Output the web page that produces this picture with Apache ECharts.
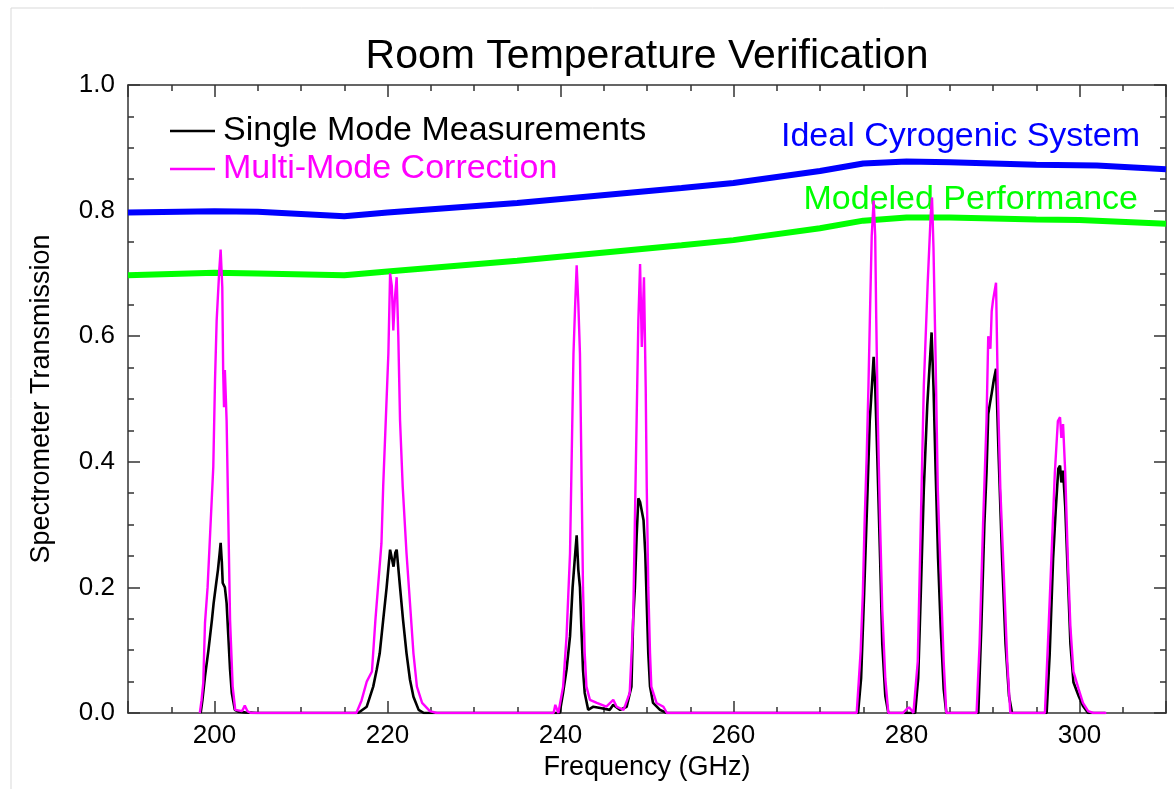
<!DOCTYPE html>
<html>
<head>
    <meta charset="utf-8">
    <script type="text/javascript" src="https://cdn.jsdelivr.net/npm/echarts@6.0.0/dist/echarts.min.js"></script>
    <style type="text/css">
        * {
            margin: 0;
            padding: 0;
        }
        body {
            background: #fff;
        }
        #container {
            width: 1174px;
            height: 789px;
        }
    </style>
</head>
<body>
<div id="container"></div>

<script type="text/javascript">

    // tick labels
    var xTickLabels = [200, 220, 240, 260, 280, 300];
    var yTickLabels = [0, 0.2, 0.4, 0.6, 0.8, 1.0];

    // ideal cryogenic system (GHz, transmission)
    var idealSystem = [
        [190, 0.797], [200, 0.799], [205, 0.798], [215, 0.791], [220, 0.797], [235, 0.812],
        [254, 0.836], [260, 0.844], [270, 0.863], [275, 0.875], [280, 0.878], [285, 0.877],
        [295, 0.873], [302, 0.872], [310, 0.866]
    ];

    // modeled performance
    var modeledPerf = [
        [190, 0.697], [200, 0.701], [205, 0.700], [215, 0.697], [220, 0.703], [235, 0.720],
        [254, 0.745], [260, 0.753], [270, 0.772], [275, 0.784], [280, 0.789], [285, 0.789],
        [295, 0.786], [300, 0.785], [310, 0.779]
    ];

    // single mode measurements
    var singleMode = [
        [198.4, 0], [198.6, 0.02], [198.9, 0.058], [199.3, 0.10], [199.7, 0.148], [199.9, 0.175],
        [200.2, 0.207], [200.4, 0.228], [200.6, 0.255], [200.71, 0.271], [200.85, 0.24], [200.95, 0.207],
        [201.2, 0.2], [201.4, 0.175], [201.6, 0.122], [201.8, 0.069], [202.0, 0.032], [202.35, 0.005],
        [202.8, 0.002], [203.5, 0.001], [205, 0],
        [216.6, 0], [217.6, 0.01], [218.35, 0.042], [218.75, 0.069], [219.1, 0.095], [219.5, 0.148],
        [219.9, 0.2], [220.3, 0.26], [220.5, 0.262], [220.7, 0.233], [220.9, 0.255], [221.06, 0.26],
        [221.45, 0.2], [221.8, 0.148], [222.2, 0.095], [222.6, 0.053], [223.0, 0.026], [223.6, 0.005],
        [224.2, 0],
        [239.9, 0], [240.3, 0.032], [240.7, 0.069], [241.1, 0.122], [241.4, 0.2], [241.7, 0.254],
        [241.87, 0.283], [242.06, 0.228], [242.25, 0.2], [242.45, 0.122], [242.6, 0.069], [242.8, 0.032],
        [243.2, 0.005], [243.8, 0.01], [244.6, 0.008], [245.7, 0.005], [246.1, 0.013], [246.9, 0.005],
        [247.65, 0.01], [248.2, 0.042], [248.4, 0.148], [248.6, 0.2], [248.8, 0.281], [249.0, 0.342],
        [249.2, 0.336], [249.4, 0.334], [249.6, 0.307], [249.8, 0.254], [249.97, 0.175], [250.15, 0.095],
        [250.35, 0.042], [250.7, 0.016], [251.5, 0.005], [252.3, 0],
        [274.4, 0], [274.75, 0.055], [275.1, 0.19], [275.5, 0.356], [275.75, 0.465], [276.0, 0.52],
        [276.2, 0.567], [276.38, 0.52], [276.62, 0.41], [276.95, 0.246], [277.2, 0.11], [277.55, 0.027],
        [277.9, 0],
        [281.0, 0], [281.35, 0.055], [281.65, 0.19], [282.0, 0.356], [282.4, 0.49], [282.9, 0.606],
        [283.12, 0.52], [283.38, 0.38], [283.65, 0.246], [283.95, 0.137], [284.3, 0.038], [284.6, 0],
        [288.3, 0], [288.65, 0.137], [289.0, 0.30], [289.25, 0.383], [289.45, 0.476], [289.65, 0.493],
        [289.85, 0.509], [290.1, 0.531], [290.35, 0.548], [290.65, 0.41], [291.05, 0.246], [291.45, 0.11],
        [291.85, 0.027], [292.2, 0],
        [296.2, 0], [296.55, 0.093], [296.95, 0.246], [297.25, 0.323], [297.55, 0.389], [297.75, 0.394],
        [297.9, 0.367], [298.1, 0.386], [298.35, 0.329], [298.65, 0.219], [298.95, 0.11], [299.3, 0.049],
        [299.9, 0.027], [300.4, 0.011], [301.0, 0], [303.0, 0]
    ];

    // multi-mode correction
    var multiMode = [
        [198.3, 0], [198.5, 0.02], [198.7, 0.048], [198.9, 0.143], [199.2, 0.2], [199.5, 0.287],
        [199.86, 0.392], [200.06, 0.53], [200.25, 0.625], [200.55, 0.705], [200.71, 0.738], [200.9, 0.678],
        [201.0, 0.546], [201.1, 0.487], [201.2, 0.546], [201.4, 0.466], [201.6, 0.307], [201.8, 0.148],
        [202.1, 0.042], [202.4, 0.005], [203.2, 0.003], [203.5, 0.012], [203.8, 0.003], [204.2, 0],
        [216.4, 0], [217.0, 0.02], [217.6, 0.05], [218.2, 0.066], [218.6, 0.148], [218.9, 0.2],
        [219.3, 0.27], [219.5, 0.36], [219.8, 0.466], [220.1, 0.572], [220.3, 0.70], [220.5, 0.68],
        [220.67, 0.609], [220.85, 0.66], [221.06, 0.694], [221.25, 0.599], [221.45, 0.466], [221.76, 0.36],
        [222.2, 0.254], [222.6, 0.175], [223.0, 0.095], [223.4, 0.042], [224.0, 0.016], [224.9, 0.003],
        [225.7, 0],
        [239.2, 0], [239.4, 0.013], [239.75, 0], [240.3, 0.042], [240.7, 0.122], [241.1, 0.254],
        [241.3, 0.413], [241.5, 0.572], [241.7, 0.652], [241.87, 0.713], [242.06, 0.652], [242.25, 0.572],
        [242.45, 0.36], [242.6, 0.2], [242.8, 0.095], [243.0, 0.042], [243.4, 0.021], [244.2, 0.016],
        [245.3, 0.01], [246.1, 0.021], [246.5, 0.01], [247.3, 0.005], [248.0, 0.032], [248.4, 0.148],
        [248.6, 0.307], [248.8, 0.466], [249.0, 0.625], [249.2, 0.715], [249.4, 0.583], [249.65, 0.694],
        [249.85, 0.519], [249.97, 0.36], [250.15, 0.2], [250.35, 0.095], [250.5, 0.042], [251.1, 0.016],
        [251.9, 0.01], [252.3, 0],
        [274.24, 0], [274.5, 0.055], [274.7, 0.099], [274.95, 0.19], [275.15, 0.30], [275.4, 0.41],
        [275.6, 0.52], [275.8, 0.65], [275.98, 0.76], [276.2, 0.816], [276.38, 0.76], [276.5, 0.63],
        [276.68, 0.47], [276.95, 0.30], [277.2, 0.164], [277.55, 0.055], [277.9, 0],
        [279.6, 0], [280.0, 0.006], [280.3, 0.009], [280.6, 0.004], [280.8, 0], [281.3, 0.082],
        [281.65, 0.30], [282.0, 0.52], [282.45, 0.685], [282.8, 0.794], [282.95, 0.821], [283.12, 0.74],
        [283.35, 0.575], [283.62, 0.356], [283.95, 0.219], [284.3, 0.082], [284.6, 0],
        [288.1, 0], [288.45, 0.11], [288.85, 0.30], [289.25, 0.465], [289.45, 0.60], [289.7, 0.58],
        [289.85, 0.64], [290.0, 0.657], [290.2, 0.66], [290.35, 0.685], [290.55, 0.52], [290.85, 0.356],
        [291.25, 0.219], [291.65, 0.082], [292.0, 0],
        [296.0, 0], [296.35, 0.11], [296.75, 0.246], [297.15, 0.383], [297.5, 0.465], [297.75, 0.471],
        [297.9, 0.438], [298.1, 0.46], [298.35, 0.383], [298.65, 0.246], [298.95, 0.137], [299.3, 0.066],
        [299.9, 0.038], [300.4, 0.016], [301.0, 0.003], [301.6, 0], [303.1, 0]
    ];

    var fontName = '"Liberation Sans", Arial, Helvetica, sans-serif';
    var axisColor = '#333';

    // one axis per side: major ticks plus minor ticks, labels only bottom/left
    function xAxisOf(pos) {
        return {
            type: 'value',
            position: pos,
            min: 190,
            max: 310,
            splitNumber: 6,
            axisLine: {show: true, onZero: false, lineStyle: {color: axisColor, width: 1.5}},
            axisTick: {show: true, inside: true, length: 12, lineStyle: {color: axisColor, width: 1.5}},
            minorTick: {show: true, splitNumber: 4, length: 6, lineStyle: {color: axisColor, width: 1.5}},
            axisLabel: pos === 'bottom' ? {
                show: true,
                customValues: xTickLabels,
                margin: 10,
                color: '#000',
                fontSize: 26,
                fontFamily: fontName
            } : {show: false},
            splitLine: {show: false},
            minorSplitLine: {show: false}
        };
    }

    function yAxisOf(pos) {
        return {
            type: 'value',
            position: pos,
            min: 0,
            max: 1,
            interval: 0.2,
            axisLine: {show: true, onZero: false, lineStyle: {color: axisColor, width: 1.5}},
            axisTick: {show: true, inside: true, length: 12, lineStyle: {color: axisColor, width: 1.5}},
            minorTick: {show: true, splitNumber: 4, length: 6, lineStyle: {color: axisColor, width: 1.5}},
            axisLabel: pos === 'left' ? {
                show: true,
                customValues: yTickLabels,
                margin: 13,
                color: '#000',
                fontSize: 26,
                fontFamily: fontName,
                formatter: function (v) {
                    return v.toFixed(1);
                }
            } : {show: false},
            splitLine: {show: false},
            minorSplitLine: {show: false}
        };
    }

    var xAxes = [xAxisOf('bottom'), xAxisOf('top')];
    xAxes[0].name = 'Frequency (GHz)';
    xAxes[0].nameLocation = 'middle';
    xAxes[0].nameGap = 25;
    xAxes[0].nameTextStyle = {color: '#000', fontSize: 27, fontFamily: fontName};

    var yAxes = [yAxisOf('left'), yAxisOf('right')];
    yAxes[0].name = 'Spectrometer Transmission';
    yAxes[0].nameLocation = 'middle';
    yAxes[0].nameGap = 73;
    yAxes[0].nameTextStyle = {color: '#000', fontSize: 27, fontFamily: fontName};

    var dom = document.getElementById('container');
    var myChart = echarts.init(dom, null, {renderer: 'canvas'});

    var option = {
        backgroundColor: '#fff',
        animation: false,
        title: {
            text: 'Room Temperature Verification',
            left: 647,
            top: 36,
            padding: 0,
            textAlign: 'center',
            textStyle: {
                color: '#000',
                fontSize: 41,
                fontWeight: 'normal',
                fontFamily: fontName
            }
        },
        legend: {
            orient: 'vertical',
            left: 170,
            top: 114,
            padding: 0,
            itemGap: 4,
            itemWidth: 45,
            itemHeight: 2.5,
            icon: 'rect',
            selectedMode: false,
            textStyle: {fontSize: 34, fontFamily: fontName, padding: [0, 0, 0, 3]},
            data: [
                {name: 'Single Mode Measurements', textStyle: {color: '#000'}},
                {name: 'Multi-Mode Correction', textStyle: {color: '#ff00ff'}}
            ]
        },
        grid: {
            left: 128,
            right: 8,
            top: 85,
            bottom: 76
        },
        xAxis: xAxes,
        yAxis: yAxes,
        graphic: [
            // page border left over from the source document
            {type: 'line', shape: {x1: 11, y1: 8, x2: 1174, y2: 8}, style: {stroke: '#d9d9d9', lineWidth: 1}},
            {type: 'line', shape: {x1: 11, y1: 8, x2: 11, y2: 789}, style: {stroke: '#d9d9d9', lineWidth: 1}},
            {
                type: 'text', x: 1140, y: 137, z: 1,
                style: {
                    text: 'Ideal Cyrogenic System', fill: '#0000ff', fontSize: 34, fontFamily: fontName,
                    align: 'right', verticalAlign: 'middle'
                }
            },
            {
                type: 'text', x: 1138, y: 200, z: 1,
                style: {
                    text: 'Modeled Performance', fill: '#00ff00', fontSize: 34, fontFamily: fontName,
                    align: 'right', verticalAlign: 'middle'
                }
            }
        ],
        series: [
            {
                name: 'Ideal Cyrogenic System',
                type: 'line',
                symbol: 'none',
                z: 2,
                lineStyle: {color: '#0000ff', width: 6},
                itemStyle: {color: '#0000ff'},
                data: idealSystem
            },
            {
                name: 'Modeled Performance',
                type: 'line',
                symbol: 'none',
                z: 2,
                lineStyle: {color: '#00ff00', width: 6},
                itemStyle: {color: '#00ff00'},
                data: modeledPerf
            },
            {
                name: 'Single Mode Measurements',
                type: 'line',
                symbol: 'none',
                z: 3,
                lineStyle: {color: '#000', width: 2.6},
                itemStyle: {color: '#000'},
                data: singleMode
            },
            {
                name: 'Multi-Mode Correction',
                type: 'line',
                symbol: 'none',
                z: 4,
                lineStyle: {color: '#ff00ff', width: 2.4},
                itemStyle: {color: '#ff00ff'},
                data: multiMode
            }
        ]
    };

    myChart.setOption(option, true);

</script>
</body>
</html>
